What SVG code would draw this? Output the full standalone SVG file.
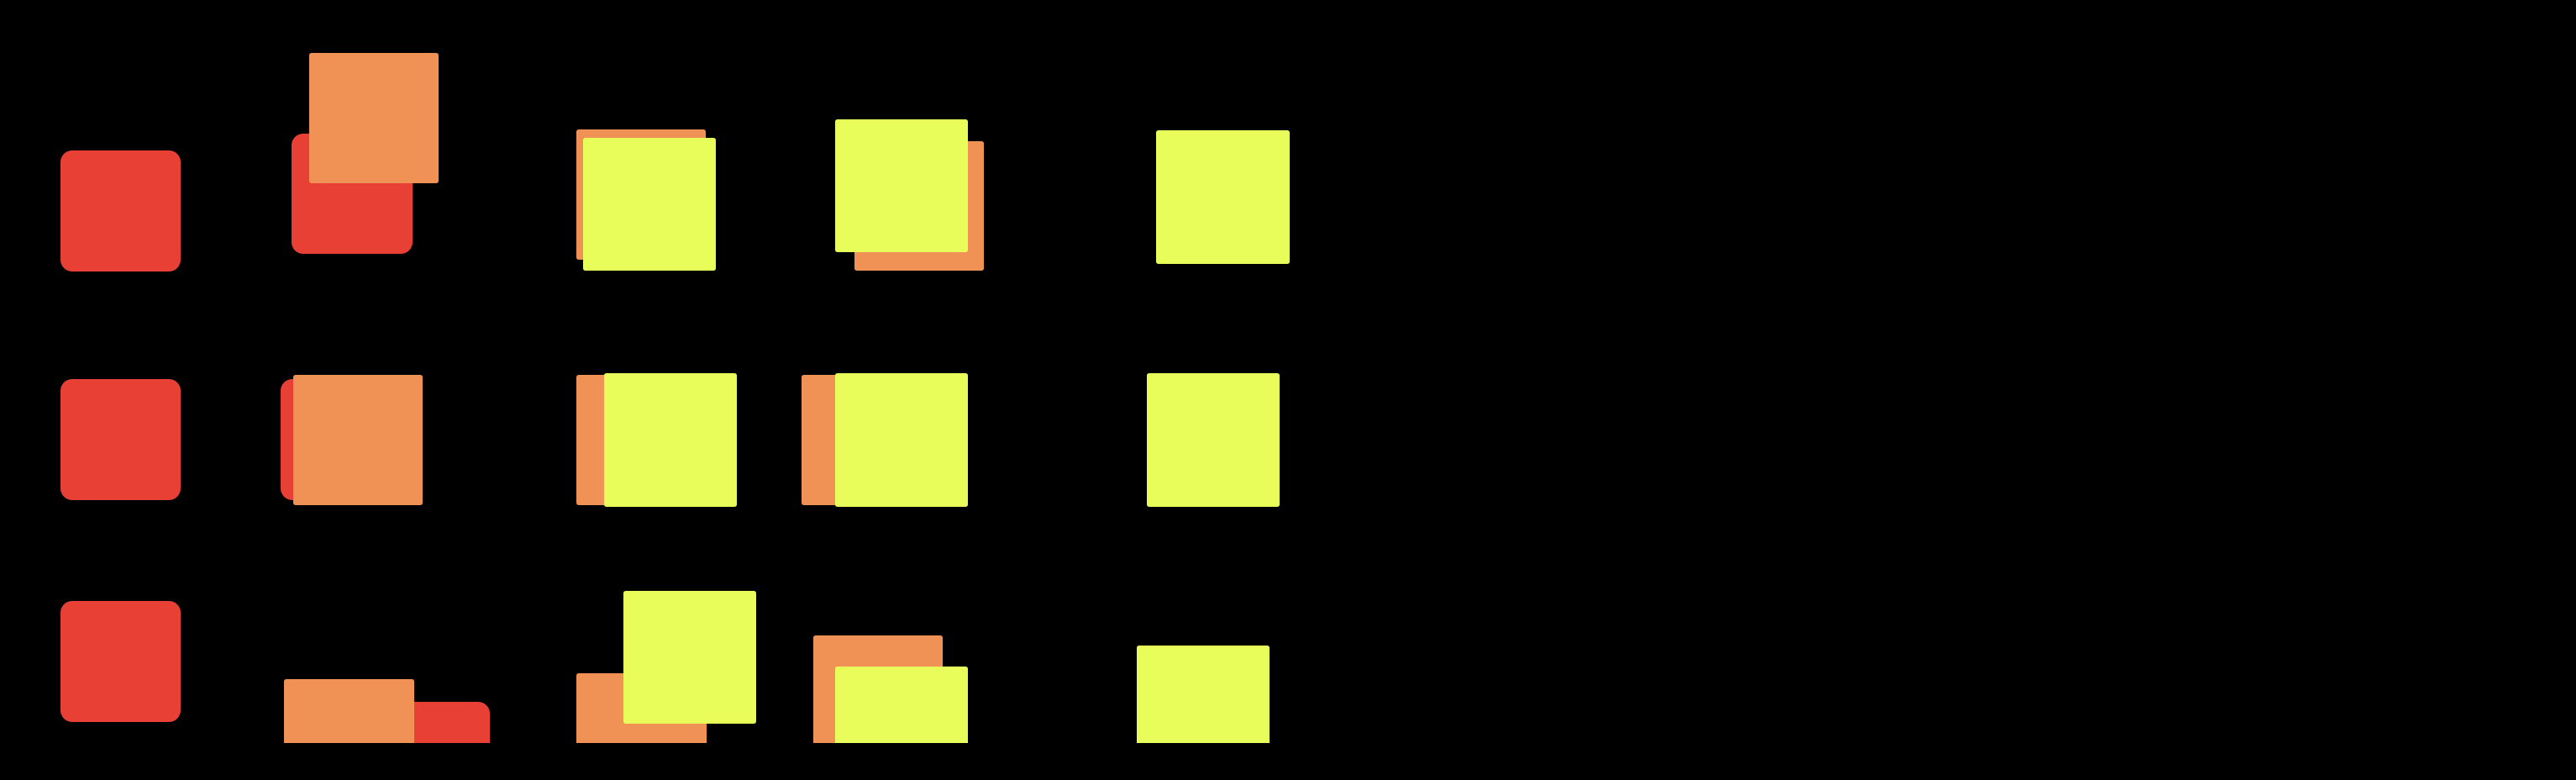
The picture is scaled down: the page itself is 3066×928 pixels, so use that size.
<svg xmlns="http://www.w3.org/2000/svg" width="3066" height="928" viewBox="0 0 3066 928">
  <defs>
    <style>
      .red { fill: #E84034; }
      .org { fill: #F09155; }
      .yel { fill: #E9FD5A; }
    </style>
    <clipPath id="clip"><rect x="0" y="0" width="3066" height="884"/></clipPath>
  </defs>
  <rect x="0" y="0" width="3066" height="928" fill="#000000"/>
  <g clip-path="url(#clip)">
    <!-- Row 1 -->
    <g id="r1c1"><rect class="red" x="72" y="179" width="143" height="144" rx="14"/></g>
    <g id="r1c2">
      <rect class="red" x="347" y="159" width="144" height="143" rx="14"/>
      <rect class="org" x="368" y="63" width="154" height="155" rx="3"/>
    </g>
    <g id="r1c3">
      <rect class="org" x="686" y="154" width="154" height="155" rx="3"/>
      <rect class="yel" x="694" y="164" width="158" height="158" rx="3"/>
    </g>
    <g id="r1c4">
      <rect class="org" x="1017" y="168" width="154" height="154" rx="3"/>
      <rect class="yel" x="994" y="142" width="158" height="158" rx="3"/>
    </g>
    <g id="r1c5"><rect class="yel" x="1376" y="155" width="159" height="159" rx="3"/></g>

    <!-- Row 2 -->
    <g id="r2c1"><rect class="red" x="72" y="451" width="143" height="144" rx="14"/></g>
    <g id="r2c2">
      <rect class="red" x="334" y="451" width="143" height="144" rx="14"/>
      <rect class="org" x="349" y="446" width="154" height="155" rx="3"/>
    </g>
    <g id="r2c3">
      <rect class="org" x="686" y="446" width="154" height="155" rx="3"/>
      <rect class="yel" x="719" y="444" width="158" height="159" rx="3"/>
    </g>
    <g id="r2c4">
      <rect class="org" x="954" y="446" width="154" height="155" rx="3"/>
      <rect class="yel" x="994" y="444" width="158" height="159" rx="3"/>
    </g>
    <g id="r2c5"><rect class="yel" x="1365" y="444" width="158" height="159" rx="3"/></g>

    <!-- Row 3 -->
    <g id="r3c1"><rect class="red" x="72" y="715" width="143" height="144" rx="14"/></g>
    <g id="r3c2">
      <rect class="red" x="440" y="835" width="143" height="144" rx="14"/>
      <rect class="org" x="338" y="808" width="155" height="155" rx="3"/>
    </g>
    <g id="r3c3">
      <rect class="org" x="686" y="801" width="155" height="155" rx="3"/>
      <rect class="yel" x="742" y="703" width="158" height="158" rx="3"/>
    </g>
    <g id="r3c4">
      <rect class="org" x="968" y="756" width="154" height="155" rx="3"/>
      <rect class="yel" x="994" y="793" width="158" height="158" rx="3"/>
    </g>
    <g id="r3c5"><rect class="yel" x="1353" y="768" width="158" height="158" rx="3"/></g>
  </g>
  <g id="connectors"></g>
</svg>
